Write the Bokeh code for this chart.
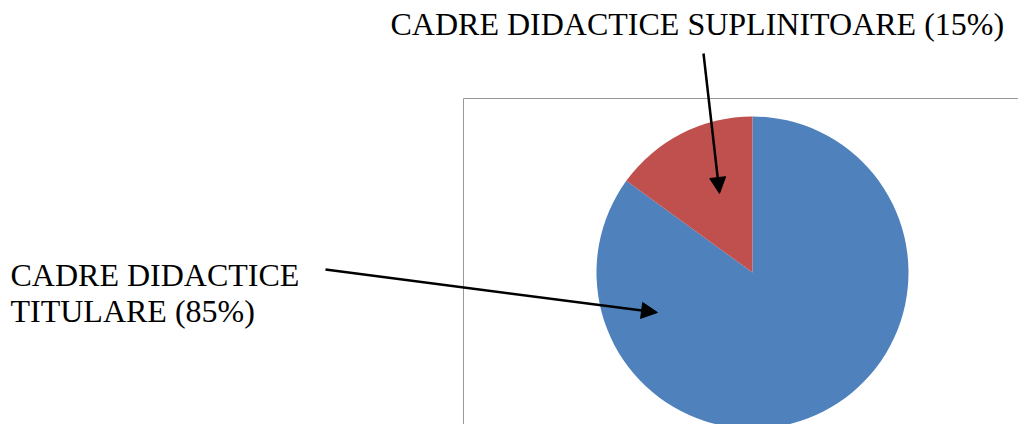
import math
from bokeh.plotting import figure
from bokeh.models import Range1d, Arrow, NormalHead, ColumnDataSource
from bokeh.core.properties import value
from bokeh.embed import file_html
from bokeh.resources import INLINE

# ---- data ----
categories = ["CADRE DIDACTICE TITULARE", "CADRE DIDACTICE SUPLINITOARE"]
percents = [85, 15]
colors = ["#4F81BD", "#C0504D"]

W, H = 1018, 424
p = figure(width=W, height=H, output_backend="svg", toolbar_location=None,
           x_range=Range1d(0, W), y_range=Range1d(0, H), min_border=0)
p.axis.visible = False
p.grid.visible = False
p.outline_line_color = None
p.background_fill_color = "white"

# plot-area frame (extends past right/bottom edges)
p.quad(left=[463], right=[W + 20], top=[H - 98], bottom=[-20],
       fill_color=None, line_color="#999999", line_width=1)

# pie: starts at 12 o'clock, goes clockwise
cx, cy, r = 752, H - 272, 156
total = sum(percents)
starts, ends = [], []
acc = 0
for v in percents:
    starts.append(math.pi / 2 - acc / total * 2 * math.pi)
    acc += v
    ends.append(math.pi / 2 - acc / total * 2 * math.pi)
src = ColumnDataSource(dict(start=starts, end=ends, color=colors))
p.wedge(x=cx, y=cy, radius=r, start_angle="start", end_angle="end",
        direction="clock", fill_color="color", line_color=None, source=src)

font = value("Liberation Serif")
# labels
p.text(x=[390], y=[H - 23], text=[f"{categories[1]} ({percents[1]}%)"],
       text_font=font, text_font_size="32px", text_color="black",
       text_baseline="alphabetic", text_align="left")
left_words = categories[0].split(" ")
p.text(x=[10, 10], y=[H - 274, H - 310],
       text=[" ".join(left_words[:2]), f"{left_words[2]} ({percents[0]}%)"],
       text_font=font, text_font_size="32px", text_color="black",
       text_baseline="alphabetic", text_align="left")

# arrows
for (x0, y0, x1, y1) in [(703, 53, 719, 193), (325, 269, 657, 312)]:
    p.add_layout(Arrow(x_start=x0, y_start=H - y0, x_end=x1, y_end=H - y1,
                       line_width=2.5, line_color="black",
                       end=NormalHead(size=16, fill_color="black", line_color="black")))

open("out.html", "w").write(file_html(p, INLINE))
